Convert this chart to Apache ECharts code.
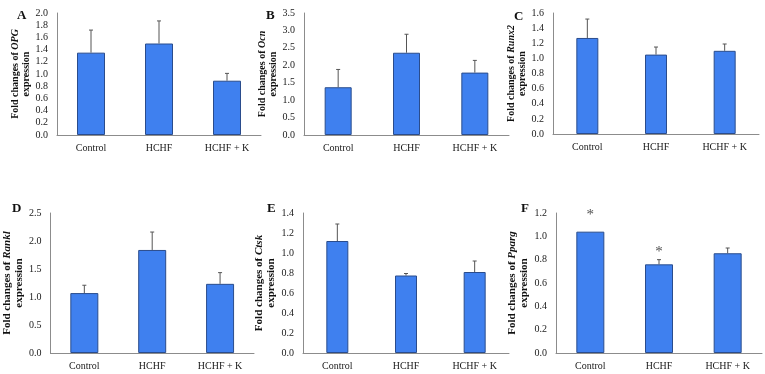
<!DOCTYPE html>
<html>
<head>
<meta charset="utf-8">
<script src="https://cdn.jsdelivr.net/npm/echarts@6/dist/echarts.min.js"></script>
<style>
  html, body { margin: 0; padding: 0; background: #fff; }
  #main { width: 765px; height: 374px; }
</style>
</head>
<body>
<div id="main"></div>
<script>
// 分组
var categories = ['Control', 'HCHF', 'HCHF + K'];

// 各基因的表达倍数 (均值) 和误差
var opgMean = [1.35, 1.50, 0.89];
var opgErr = [0.37, 0.37, 0.12];
var ocnMean = [1.37, 2.36, 1.79];
var ocnErr = [0.51, 0.53, 0.35];
var runx2Mean = [1.27, 1.05, 1.10];
var runx2Err = [0.25, 0.10, 0.09];
var ranklMean = [1.07, 1.84, 1.235];
var ranklErr = [0.14, 0.32, 0.20];
var ctskMean = [1.12, 0.775, 0.81];
var ctskErr = [0.17, 0.02, 0.11];
var ppargMean = [1.04, 0.76, 0.855];
var ppargErr = [0, 0.04, 0.045];
// 显著性星号的位置
var ppargStar = [1.20, 0.88, null];

// y 轴刻度
var yMax = [2.0, 3.5, 1.6, 2.5, 1.4, 1.2];
var yStep = [0.2, 0.5, 0.2, 0.5, 0.2, 0.2];

var panels = [
    { letter: 'A', gene: 'OPG', mean: opgMean, err: opgErr },
    { letter: 'B', gene: 'Ocn', mean: ocnMean, err: ocnErr },
    { letter: 'C', gene: 'Runx2', mean: runx2Mean, err: runx2Err },
    { letter: 'D', gene: 'Rankl', mean: ranklMean, err: ranklErr },
    { letter: 'E', gene: 'Ctsk', mean: ctskMean, err: ctskErr },
    { letter: 'F', gene: 'Pparg', mean: ppargMean, err: ppargErr }
];

// 布局
var grids = [
    { left: 57, top: 13, width: 204, height: 122 },
    { left: 304, top: 13, width: 205, height: 122 },
    { left: 553, top: 13, width: 206, height: 121 },
    { left: 48, top: 213, width: 206, height: 140 },
    { left: 303, top: 213, width: 206, height: 140 },
    { left: 556, top: 213, width: 206, height: 140 }
];
var barWidths = [28, 27, 22, 28, 22, 28];
var letterPos = [[17, 20], [266, 20], [514, 21], [12, 213], [267, 213], [521, 213]];
var nameGaps = [22, 24, 21, 21, 23, 21];
var nameSize = [10, 10, 10, 11, 11, 11];

var serif = '"Liberation Serif", "Times New Roman", serif';
var barColor = '#3f80ef';
var barBorder = '#2a4c8c';

function errorItem(params, api) {
    var x = api.value(0), v = api.value(1), e = api.value(2);
    if (!e) return;
    var p0 = api.coord([x, v]);
    var p1 = api.coord([x, v + e]);
    var st = { stroke: '#555', lineWidth: 1 };
    return {
        type: 'group',
        children: [
            { type: 'line', shape: { x1: p0[0], y1: p0[1], x2: p1[0], y2: p1[1] }, style: st },
            { type: 'line', shape: { x1: p1[0] - 2, y1: p1[1], x2: p1[0] + 2, y2: p1[1] }, style: st }
        ]
    };
}

var option = {
    animation: false,
    backgroundColor: '#fff',
    textStyle: { fontFamily: serif },
    grid: [],
    xAxis: [],
    yAxis: [],
    series: [],
    graphic: []
};

panels.forEach(function (p, i) {
    var fs = nameSize[i];
    option.grid.push(grids[i]);
    option.xAxis.push({
        type: 'category',
        gridIndex: i,
        data: categories,
        axisLine: { lineStyle: { color: '#8c8c8c', width: 1 } },
        axisTick: { show: false },
        axisLabel: { color: '#1a1a1a', fontFamily: serif, fontSize: 10, margin: 8 }
    });
    option.yAxis.push({
        type: 'value',
        gridIndex: i,
        min: 0,
        max: yMax[i],
        interval: yStep[i],
        axisLine: { show: true, lineStyle: { color: '#8c8c8c', width: 1 } },
        axisTick: { show: false },
        splitLine: { show: false },
        axisLabel: {
            color: '#1a1a1a', fontFamily: serif, fontSize: 10, margin: 9,
            formatter: function (v) { return v.toFixed(1); }
        },
        name: '{b|Fold changes of }{i|' + p.gene + '}\n{b|expression}',
        nameLocation: 'middle',
        nameRotate: 90,
        nameGap: nameGaps[i],
        nameTextStyle: {
            lineHeight: fs + 1,
            rich: {
                b: { fontFamily: serif, fontWeight: 'bold', fontSize: fs, color: '#111', lineHeight: fs + 1 },
                i: { fontFamily: serif, fontWeight: 'bold', fontStyle: 'italic', fontSize: fs, color: '#111', lineHeight: fs + 1 }
            }
        }
    });
    option.series.push({
        type: 'bar',
        xAxisIndex: i,
        yAxisIndex: i,
        data: p.mean,
        barWidth: barWidths[i],
        itemStyle: { color: barColor, borderColor: barBorder, borderWidth: 1 }
    });
    option.series.push({
        type: 'custom',
        xAxisIndex: i,
        yAxisIndex: i,
        renderItem: errorItem,
        encode: { x: 0, y: 1 },
        z: 5,
        data: p.mean.map(function (m, k) { return [k, m, p.err[k]]; })
    });
    option.graphic.push({
        type: 'text',
        left: letterPos[i][0],
        top: letterPos[i][1] - 11,
        style: { text: p.letter, font: 'bold 13px ' + serif, fill: '#111' }
    });
});

// F 图的星号
option.series.push({
    type: 'scatter',
    xAxisIndex: 5,
    yAxisIndex: 5,
    symbolSize: 1,
    itemStyle: { color: 'rgba(0,0,0,0)' },
    label: {
        show: true, position: 'inside', formatter: '*',
        fontFamily: serif, fontSize: 15, color: '#222', offset: [0, 2]
    },
    data: ppargStar.map(function (v, k) { return v == null ? null : [k, v]; }).filter(function (d) { return d; })
});

var chart = echarts.init(document.getElementById('main'));
chart.setOption(option);
</script>
</body>
</html>
